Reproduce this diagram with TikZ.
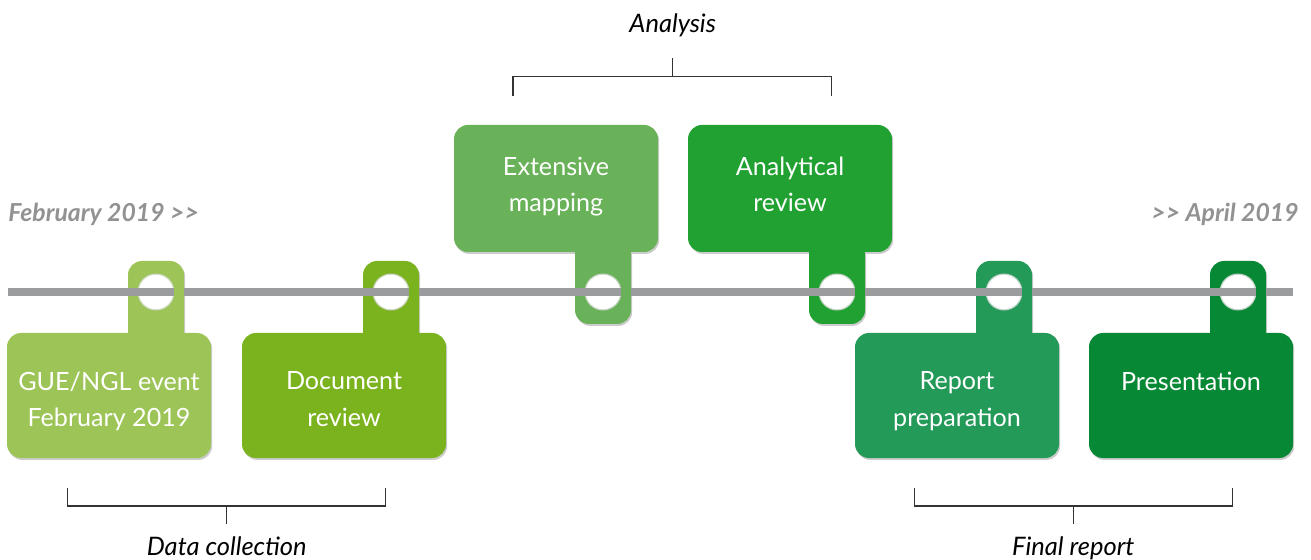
\documentclass[tikz,border=0pt]{standalone}
\usepackage{fontspec}
\setmainfont{Lato}
\usetikzlibrary{shadows}

\definecolor{tagA}{HTML}{9CC456}
\definecolor{tagB}{HTML}{7BB31F}
\definecolor{tagC}{HTML}{69B259}
\definecolor{tagD}{HTML}{21A131}
\definecolor{tagE}{HTML}{249A58}
\definecolor{tagF}{HTML}{068834}
\definecolor{barGray}{HTML}{9B9C9E}
\definecolor{dateGray}{HTML}{929292}

\begin{document}
\begin{tikzpicture}[x=0.02cm,y=-0.02cm]
\useasboundingbox (0,0) rectangle (1311,560);

\tikzset{tagbox/.style={rounded corners=0.28cm,
    drop shadow={shadow xshift=0.7pt,shadow yshift=-1.1pt,opacity=0.4}},
  tagtext/.style={text=white,align=center,anchor=north,inner sep=0pt,
    font=\fontsize{14.3}{20.8}\selectfont},
  phase/.style={inner sep=0pt,anchor=base,font=\itshape\fontsize{14.5}{16}\selectfont},
  datemark/.style={inner sep=0pt,text=dateGray,font=\bfseries\itshape\fontsize{14.1}{16}\selectfont},
  bracket/.style={line width=0.75pt,black!80}}

% tags hanging below the line
\foreach \cx/\col in {109/tagA,344/tagB,957/tagE,1191/tagF}{
  \fill[\col,tagbox] (\cx-102,333) rectangle (\cx+102,458) (\cx+19,261) rectangle (\cx+75,345);
  \fill[white] (\cx+47,292) circle[radius=0.37cm];
  \draw[\col!60!black,opacity=0.25,line width=0.8pt] (\cx+47,292) circle[radius=0.36cm];
}
% tags standing above the line
\foreach \cx/\col in {556/tagC,790/tagD}{
  \fill[\col,tagbox] (\cx-102,125) rectangle (\cx+102,252) (\cx+19,240) rectangle (\cx+75,324);
  \fill[white] (\cx+47,292) circle[radius=0.37cm];
  \draw[\col!60!black,opacity=0.25,line width=0.8pt] (\cx+47,292) circle[radius=0.36cm];
}

% the time line, threaded through the holes
\coordinate (barL) at (8,292);
\coordinate (barR) at (1293,292);
\draw[barGray,line width=5.1pt] (barL) -- (barR);
\foreach \cx/\col in {109/tagA,344/tagB,556/tagC,790/tagD,957/tagE,1191/tagF}{
  \fill[\col] (\cx+65.2,286.5) rectangle (\cx+75,297.5);
}

\node[tagtext] (gue) at (109,371.5) {GUE/NGL event\\February 2019};
\node[tagtext] (doc) at (344,371.5) {Document\\review};
\node[tagtext] (ext) at (556,156.5) {Extensive\\mapping};
\node[tagtext] (ana) at (790,156.5) {Analytical\\review};
\node[tagtext] (rep) at (957,371.5) {Report\\preparation};
\node[tagtext] (pres) at (1191,371.5) {Presentation};

\node[datemark,anchor=base west] (start) at (8,221.7) {February 2019 {>}{>}};
\node[datemark,anchor=base east] (end) at (1299,221.7) {{>}{>} April 2019};

\node[phase] (analysis) at (672.7,33) {Analysis};
\node[phase] (collect) at (226.7,555) {Data collection};
\node[phase] (final) at (1073.3,555) {Final report};

% brackets
\draw[bracket] (513,95.7) -- (513,76.7) -- (831.7,76.7) -- (831.7,95.7);
\draw[bracket] (672.7,76.7) -- (672.7,58.3);
\draw[bracket] (67.7,488) -- (67.7,506) -- (385.7,506) -- (385.7,488);
\draw[bracket] (226.7,506) -- (226.7,524.3);
\draw[bracket] (914.3,488) -- (914.3,506) -- (1232.3,506) -- (1232.3,488);
\draw[bracket] (1073.3,506) -- (1073.3,524.3);
\end{tikzpicture}
\end{document}
